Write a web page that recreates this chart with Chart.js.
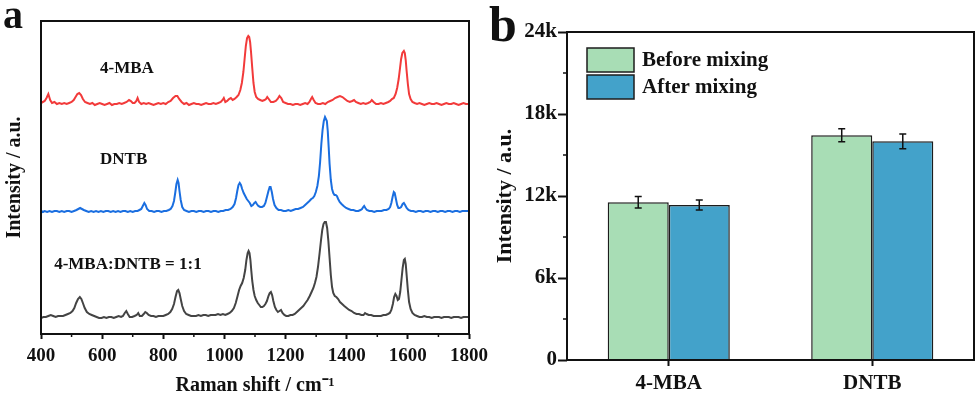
<!DOCTYPE html>
<html>
<head>
<meta charset="utf-8">
<script src="https://cdn.jsdelivr.net/npm/chart.js@4.4.1/dist/chart.umd.min.js"></script>
<style>
  body { margin: 0; background: #fff; }
  #wrap { position: relative; width: 979px; height: 395px; overflow: hidden; }
  canvas { position: absolute; top: 0; }
  #spectra { left: 0; }
  #bars { left: 480px; }
</style>
</head>
<body>
<div id="wrap">
  <canvas id="spectra" width="495" height="395"></canvas>
  <canvas id="bars" width="499" height="395"></canvas>
</div>
<script>
const FONT = "'Liberation Serif', 'Times New Roman', serif";
const INK = '#111';

// panel a - Raman spectra, [shift cm-1, intensity a.u.] (curves already stacked)
const spectrumNames = ['4-MBA', 'DNTB', '4-MBA:DNTB = 1:1'];
const spectrumColors = ['#f23a3a', '#1a6ee0', '#444444'];
const mba = [[400,231],[406,232],[412,233],[418,236],[424,240],[430,234],[436,231],[444,232],[452,230],[460,231],[468,230],[476,231],[484,230],[492,231],[500,232],[507,234],[513,237],[519,240],[525,241],[531,239],[537,235],[544,232],[552,231],[560,230],[568,231],[576,229],[584,230],[592,231],[600,230],[608,229],[616,230],[624,231],[632,229],[640,230],[648,230],[656,231],[664,230],[672,231],[680,232],[688,234],[694,233],[700,231],[706,231],[712,233],[716,236],[721,232],[728,230],[736,231],[744,230],[752,231],[760,230],[768,229],[776,230],[784,231],[792,230],[800,231],[808,230],[816,232],[824,233],[832,236],[840,238],[846,238],[852,235],[860,232],[868,230],[876,231],[884,229],[892,230],[900,231],[908,230],[916,230],[924,229],[932,230],[940,231],[948,230],[956,230],[964,231],[972,230],[980,231],[988,232],[994,234],[998,236],[1003,232],[1009,233],[1015,235],[1021,236],[1027,234],[1033,235],[1040,237],[1046,239],[1052,244],[1057,251],[1062,262],[1066,275],[1070,288],[1074,296],[1078,298],[1081,297],[1084,292],[1087,282],[1091,266],[1095,251],[1099,242],[1104,237],[1110,235],[1117,234],[1124,233],[1131,234],[1136,235],[1140,237],[1145,235],[1152,232],[1160,232],[1168,233],[1174,235],[1180,238],[1186,236],[1192,232],[1200,231],[1208,230],[1216,230],[1224,229],[1232,230],[1240,230],[1248,229],[1256,230],[1264,231],[1272,230],[1278,232],[1283,235],[1287,237],[1292,234],[1298,231],[1306,230],[1314,230],[1322,231],[1330,230],[1338,232],[1346,233],[1354,234],[1362,236],[1370,237],[1378,238],[1386,237],[1394,235],[1402,233],[1410,232],[1418,233],[1424,234],[1430,232],[1438,231],[1446,230],[1454,231],[1462,230],[1470,231],[1477,232],[1482,234],[1488,232],[1496,230],[1504,230],[1512,231],[1520,230],[1528,231],[1536,232],[1542,233],[1548,235],[1554,236],[1560,240],[1565,246],[1570,255],[1574,265],[1578,275],[1582,281],[1587,283],[1590,281],[1593,274],[1596,263],[1600,250],[1604,240],[1609,235],[1615,232],[1622,231],[1630,230],[1638,231],[1646,230],[1654,229],[1662,230],[1670,231],[1678,230],[1686,230],[1694,231],[1702,230],[1710,229],[1718,230],[1726,231],[1734,230],[1742,230],[1750,231],[1758,230],[1766,229],[1774,230],[1782,231],[1790,230],[1800,230]];
const dntb = [[400,123],[406,122],[412,123],[420,122],[428,123],[436,122],[444,123],[452,123],[460,122],[468,123],[476,122],[484,123],[492,123],[500,122],[508,123],[516,124],[522,125],[528,126],[534,125],[540,124],[548,123],[556,122],[564,123],[572,122],[580,123],[588,122],[596,123],[604,122],[612,123],[620,123],[628,122],[636,123],[644,122],[652,123],[660,122],[668,123],[676,123],[684,122],[692,123],[700,122],[708,123],[716,123],[722,124],[728,125],[733,128],[738,131],[742,129],[747,125],[754,123],[762,123],[770,122],[778,123],[786,123],[794,122],[802,123],[810,123],[818,124],[824,125],[830,128],[835,133],[839,141],[843,150],[847,154],[850,151],[853,143],[857,134],[862,127],[868,124],[876,123],[884,122],[892,123],[900,123],[908,122],[916,123],[924,123],[932,122],[940,123],[948,123],[956,122],[964,123],[972,123],[980,122],[988,123],[996,123],[1004,124],[1012,124],[1020,125],[1027,127],[1033,130],[1038,136],[1042,143],[1046,149],[1050,151],[1054,149],[1058,145],[1063,141],[1068,138],[1073,135],[1078,133],[1083,131],[1088,128],[1093,129],[1098,131],[1102,132],[1106,130],[1111,128],[1117,127],[1123,127],[1129,128],[1134,131],[1139,137],[1144,143],[1148,147],[1151,147],[1155,142],[1159,135],[1164,129],[1170,126],[1177,124],[1185,124],[1193,123],[1201,123],[1209,124],[1217,123],[1225,124],[1233,125],[1241,125],[1249,126],[1257,127],[1264,129],[1271,131],[1278,133],[1284,135],[1289,136],[1294,138],[1299,142],[1304,148],[1309,158],[1313,172],[1317,190],[1321,204],[1325,213],[1329,217],[1332,217],[1335,213],[1338,203],[1341,187],[1344,170],[1348,154],[1352,145],[1356,141],[1360,139],[1364,139],[1368,138],[1372,135],[1377,132],[1383,130],[1390,128],[1398,126],[1406,125],[1414,124],[1422,124],[1430,123],[1438,123],[1445,124],[1450,125],[1454,127],[1457,128],[1461,126],[1466,124],[1474,123],[1482,123],[1490,122],[1498,123],[1506,123],[1514,123],[1522,124],[1530,124],[1537,125],[1542,127],[1546,131],[1550,137],[1554,142],[1557,141],[1561,135],[1565,129],[1569,126],[1573,126],[1578,127],[1583,130],[1587,131],[1591,129],[1596,126],[1602,124],[1610,123],[1618,123],[1626,122],[1634,123],[1642,123],[1650,122],[1658,123],[1666,123],[1674,122],[1682,123],[1690,123],[1698,122],[1706,123],[1714,123],[1722,122],[1730,123],[1738,123],[1746,122],[1754,123],[1762,123],[1770,122],[1778,123],[1786,123],[1800,123]];
const mix = [[400,16],[408,17],[416,17],[424,18],[432,19],[440,18],[448,17],[456,18],[464,18],[472,18],[480,19],[488,20],[496,21],[503,23],[509,26],[515,31],[521,35],[527,37],[532,35],[537,31],[543,26],[550,22],[558,20],[566,19],[574,18],[582,17],[590,16],[598,16],[606,17],[614,16],[622,17],[630,17],[638,16],[646,17],[654,18],[662,17],[668,18],[674,21],[679,23],[684,20],[690,17],[698,17],[706,18],[713,19],[718,21],[723,18],[730,18],[736,20],[741,22],[746,21],[752,19],[760,18],[768,18],[776,17],[784,18],[792,18],[800,18],[808,19],[816,20],[823,22],[829,25],[835,30],[840,37],[845,43],[849,44],[853,41],[857,35],[862,28],[868,23],[875,20],[883,19],[891,18],[899,18],[907,18],[915,19],[923,18],[931,19],[939,19],[947,18],[955,19],[963,19],[971,19],[979,20],[987,19],[995,20],[1003,19],[1010,20],[1017,21],[1024,23],[1031,26],[1037,31],[1043,38],[1048,44],[1053,48],[1058,51],[1063,56],[1068,64],[1072,74],[1076,81],[1079,83],[1082,81],[1085,74],[1088,63],[1091,53],[1095,44],[1099,38],[1104,34],[1109,31],[1114,29],[1119,27],[1124,27],[1129,28],[1134,30],[1139,33],[1144,38],[1148,41],[1152,42],[1156,39],[1160,33],[1165,27],[1170,24],[1175,22],[1180,23],[1185,24],[1190,21],[1196,19],[1202,18],[1209,18],[1216,19],[1223,19],[1230,20],[1237,22],[1244,24],[1251,26],[1258,28],[1265,31],[1272,34],[1279,38],[1285,42],[1291,46],[1296,51],[1301,57],[1306,67],[1311,80],[1316,94],[1320,104],[1324,110],[1328,112],[1332,112],[1336,106],[1340,93],[1344,76],[1348,59],[1352,47],[1356,41],[1361,38],[1366,37],[1372,35],[1378,32],[1385,30],[1392,28],[1400,26],[1408,24],[1416,23],[1424,21],[1432,20],[1440,20],[1448,19],[1455,19],[1460,21],[1465,20],[1472,19],[1480,19],[1488,18],[1496,18],[1504,18],[1512,18],[1520,19],[1528,19],[1535,20],[1541,21],[1546,24],[1551,30],[1555,37],[1559,40],[1563,38],[1567,34],[1571,35],[1575,42],[1579,54],[1583,66],[1587,74],[1590,75],[1593,70],[1596,59],[1600,44],[1604,32],[1609,25],[1615,21],[1622,19],[1630,18],[1638,17],[1646,17],[1654,18],[1662,17],[1670,17],[1678,16],[1686,17],[1694,17],[1702,17],[1710,16],[1718,17],[1726,17],[1734,17],[1742,16],[1750,17],[1758,17],[1766,17],[1774,16],[1782,17],[1790,17],[1800,17]];
// where each curve's name sits (shift, intensity)
const nameShift = [593, 593, 443];
const nameLevel = [261, 170, 65];

// panel b - SERS intensity before / after mixing
const samples = ['4-MBA', 'DNTB'];
const seriesNames = ['Before mixing', 'After mixing'];
const seriesColors = ['#a8ddb5', '#43a2ca'];
const before = [11540, 16440];
const after = [11340, 16000];
const beforeErr = [420, 475];
const afterErr = [370, 540];

const boldFont = size => ({ family: FONT, size: size, weight: 'bold' });

// box round the plot, half-length minor ticks and the panel letter
const framePlugin = {
  id: 'frame',
  afterDraw(chart, args, opts) {
    const { ctx, chartArea: a } = chart;
    ctx.save();
    ctx.strokeStyle = INK;
    ctx.lineWidth = 2;
    ctx.strokeRect(a.left, a.top, a.right - a.left, a.bottom - a.top);
    const s = chart.scales[opts.minorAxis];
    const t = s.ticks;
    ctx.lineWidth = 1.5;
    for (let i = 0; i < t.length - 1; i++) {
      const p = s.getPixelForValue((t[i].value + t[i + 1].value) / 2);
      ctx.beginPath();
      if (s.isHorizontal()) {
        ctx.moveTo(p, a.bottom);
        ctx.lineTo(p, a.bottom + opts.minorLen);
      } else {
        ctx.moveTo(a.left, p);
        ctx.lineTo(a.left - opts.minorLen, p);
      }
      ctx.stroke();
    }
    ctx.fillStyle = INK;
    ctx.font = 'bold ' + opts.letterSize + 'px ' + FONT;
    ctx.textAlign = 'left';
    ctx.textBaseline = 'alphabetic';
    ctx.fillText(opts.letter, opts.letterX, opts.letterY);
    ctx.restore();
  }
};

const curveNames = {
  id: 'curveNames',
  afterDatasetsDraw(chart) {
    const { ctx, scales: { x, y } } = chart;
    ctx.save();
    ctx.fillStyle = INK;
    ctx.font = 'bold 17px ' + FONT;
    ctx.textAlign = 'left';
    ctx.textBaseline = 'alphabetic';
    spectrumNames.forEach((name, i) => {
      ctx.fillText(name, x.getPixelForValue(nameShift[i]), y.getPixelForValue(nameLevel[i]));
    });
    ctx.restore();
  }
};

const errorBars = {
  id: 'errorBars',
  afterDatasetsDraw(chart) {
    const { ctx, scales: { y } } = chart;
    const errs = [beforeErr, afterErr];
    ctx.save();
    ctx.strokeStyle = INK;
    ctx.lineWidth = 1.5;
    chart.data.datasets.forEach((ds, i) => {
      chart.getDatasetMeta(i).data.forEach((bar, j) => {
        const hi = y.getPixelForValue(ds.data[j] + errs[i][j]);
        const lo = y.getPixelForValue(ds.data[j] - errs[i][j]);
        ctx.beginPath();
        ctx.moveTo(bar.x, hi); ctx.lineTo(bar.x, lo);
        ctx.moveTo(bar.x - 3.5, hi); ctx.lineTo(bar.x + 3.5, hi);
        ctx.moveTo(bar.x - 3.5, lo); ctx.lineTo(bar.x + 3.5, lo);
        ctx.stroke();
      });
    });
    ctx.restore();
  }
};

const boxLegend = {
  id: 'boxLegend',
  afterDraw(chart) {
    const { ctx, chartArea: a } = chart;
    ctx.save();
    ctx.font = 'bold 21px ' + FONT;
    ctx.textAlign = 'left';
    ctx.textBaseline = 'middle';
    chart.data.datasets.forEach((ds, i) => {
      const bx = a.left + 20, by = a.top + 16 + i * 27;
      ctx.fillStyle = ds.backgroundColor;
      ctx.fillRect(bx, by, 47, 24);
      ctx.strokeStyle = ds.borderColor;
      ctx.lineWidth = 1.5;
      ctx.strokeRect(bx, by, 47, 24);
      ctx.fillStyle = INK;
      ctx.fillText(ds.label, bx + 55, by + 13);
    });
    ctx.restore();
  }
};

new Chart(document.getElementById('spectra'), {
  type: 'line',
  data: {
    datasets: [mba, dntb, mix].map((s, i) => ({
      label: spectrumNames[i],
      data: s.map(p => ({ x: p[0], y: p[1] })),
      borderColor: spectrumColors[i],
      borderWidth: 2,
      pointRadius: 0,
      tension: 0,
      fill: false
    }))
  },
  options: {
    responsive: false,
    animation: false,
    devicePixelRatio: 1,
    layout: { padding: { top: 21, right: 26, left: 0, bottom: 0 } },
    plugins: {
      legend: { display: false },
      tooltip: { enabled: false },
      frame: { minorAxis: 'x', minorLen: 3, letter: 'a', letterSize: 40, letterX: 3, letterY: 28 }
    },
    scales: {
      x: {
        type: 'linear', min: 400, max: 1800,
        border: { display: false },
        grid: { drawOnChartArea: false, tickLength: 5, tickWidth: 2, tickColor: INK },
        ticks: { stepSize: 200, padding: 6, color: INK, font: boldFont(19), maxRotation: 0, autoSkip: false,
                 callback: v => String(v) },
        title: { display: true, text: 'Raman shift / cm⁻¹', color: INK, font: boldFont(20), padding: { top: 0, bottom: -3 } },
        afterFit: s => { s.height = 61; }
      },
      y: {
        min: 0, max: 313,
        border: { display: false },
        grid: { display: false },
        ticks: { display: false },
        title: { display: true, text: 'Intensity / a.u.', color: INK, font: boldFont(20), padding: { top: 3, bottom: 0 } },
        afterFit: s => { s.width = 41; }
      }
    }
  },
  plugins: [framePlugin, curveNames]
});

new Chart(document.getElementById('bars'), {
  type: 'bar',
  data: {
    labels: samples,
    datasets: [before, after].map((v, i) => ({
      label: seriesNames[i],
      data: v,
      backgroundColor: seriesColors[i],
      borderColor: '#1c1c1c',
      borderWidth: 1.5,
      categoryPercentage: 0.6,
      barPercentage: 1
    }))
  },
  options: {
    responsive: false,
    animation: false,
    devicePixelRatio: 1,
    layout: { padding: { top: 32, right: 5, left: 0, bottom: 0 } },
    plugins: {
      legend: { display: false },
      tooltip: { enabled: false },
      frame: { minorAxis: 'y', minorLen: 4, letter: 'b', letterSize: 50, letterX: 9, letterY: 41 }
    },
    scales: {
      x: {
        border: { display: false },
        grid: { offset: false, drawOnChartArea: false, tickLength: 6, tickWidth: 2, tickColor: INK },
        ticks: { padding: 5, color: INK, font: boldFont(21) },
        afterFit: s => { s.height = 35; }
      },
      y: {
        min: 0, max: 24000,
        border: { display: false },
        grid: { drawOnChartArea: false, tickLength: 9, tickWidth: 2, tickColor: INK },
        ticks: {
          stepSize: 6000, padding: 1, color: INK, font: boldFont(21),
          callback: v => (v === 0 ? '0' : v / 1000 + 'k')
        },
        title: { display: true, text: 'Intensity / a.u.', color: INK, font: boldFont(22), padding: { top: 12, bottom: 0 } },
        afterFit: s => { s.width = 87; }
      }
    }
  },
  plugins: [framePlugin, errorBars, boxLegend]
});
</script>
</body>
</html>
